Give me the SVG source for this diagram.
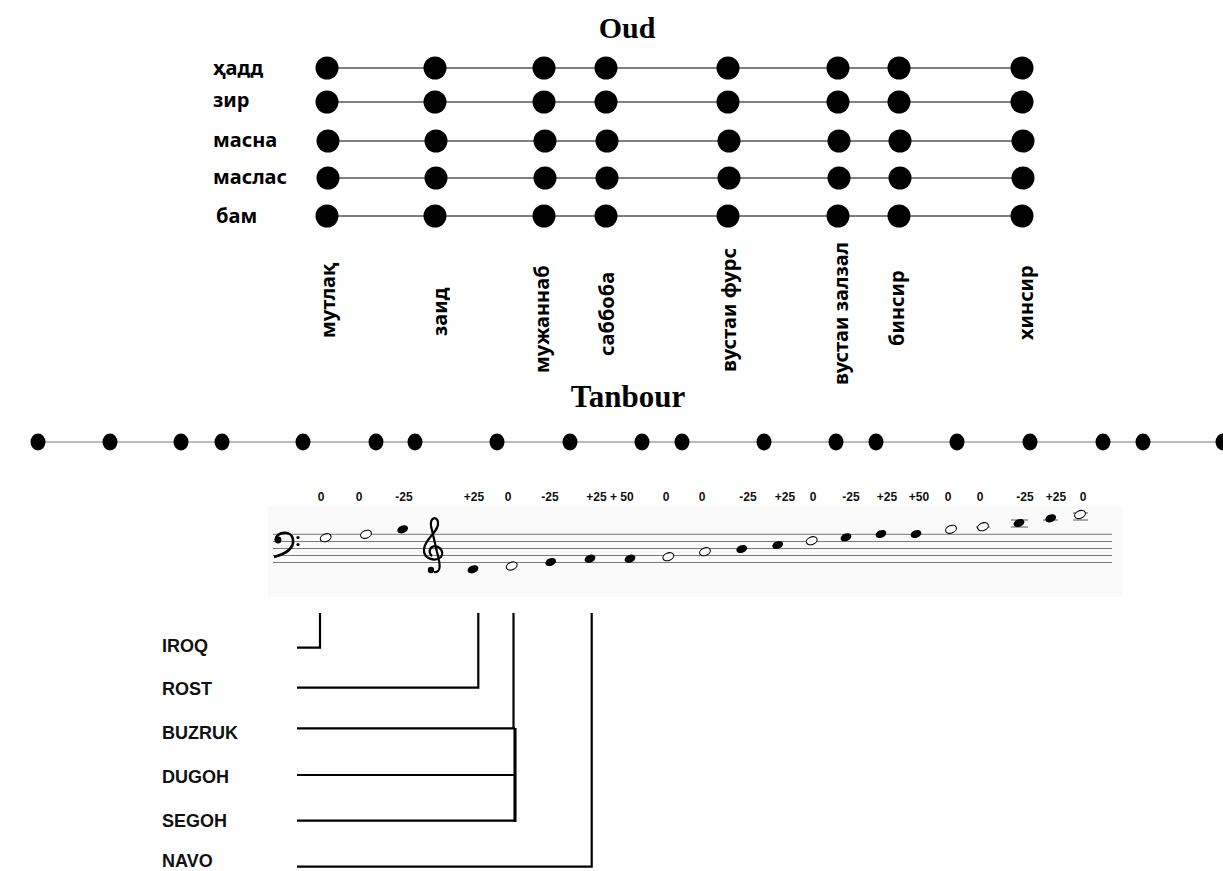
<svg xmlns="http://www.w3.org/2000/svg" width="1223" height="871" viewBox="0 0 1223 871">
<style>
.title{font-family:"Liberation Serif",serif;font-weight:bold;font-size:30px;fill:#000}
.slab{font-family:"Noto Sans",sans-serif;font-weight:bold;font-size:20px;fill:#000}
.vlab{font-family:"Noto Sans",sans-serif;font-weight:bold;font-size:20px;fill:#000}
.cents{font-family:"Liberation Sans",sans-serif;font-weight:bold;font-size:12px;fill:#111;text-anchor:middle}
.maq{font-family:"Liberation Sans",sans-serif;font-weight:bold;font-size:18px;fill:#111}
.str{stroke:#555;stroke-width:1.5}
.od{fill:#000}
.tl{stroke:#bbbbbb;stroke-width:2}
.staff{stroke:#7a7a7a;stroke-width:1}
.fn{fill:#000}
.on{fill:#fff;stroke:#000;stroke-width:1.1}
.led{stroke:#555;stroke-width:1}
.con{stroke:#000;stroke-width:2.2;fill:none}
</style>
<defs>
<circle id="d" r="11.5"/>
<ellipse id="t" rx="7.5" ry="8.5"/>
<ellipse id="nh" rx="5.6" ry="3.8" transform="rotate(-22)"/>
</defs>
<rect width="1223" height="871" fill="#fff"/>

<g id="oud-title"><text class="title" x="627" y="38" text-anchor="middle">Oud</text></g>

<g id="string-hadd">
<text class="slab" x="213" y="75">ҳадд</text>
<line class="str" x1="327" y1="68" x2="1022" y2="68"/>
<g class="od"><use href="#d" x="327" y="68"/><use href="#d" x="435" y="68"/><use href="#d" x="544" y="68"/><use href="#d" x="606" y="68"/><use href="#d" x="728" y="68"/><use href="#d" x="838" y="68"/><use href="#d" x="899" y="68"/><use href="#d" x="1022" y="68"/></g>
</g>
<g id="string-zir">
<text class="slab" x="213" y="107">зир</text>
<line class="str" x1="327" y1="102" x2="1022" y2="102"/>
<g class="od"><use href="#d" x="327" y="102"/><use href="#d" x="435" y="102"/><use href="#d" x="544" y="102"/><use href="#d" x="606" y="102"/><use href="#d" x="728" y="102"/><use href="#d" x="838" y="102"/><use href="#d" x="899" y="102"/><use href="#d" x="1022" y="102"/></g>
</g>
<g id="string-masna">
<text class="slab" x="213" y="147">масна</text>
<line class="str" x1="328" y1="141" x2="1023" y2="141"/>
<g class="od"><use href="#d" x="328" y="141"/><use href="#d" x="436" y="141"/><use href="#d" x="545" y="141"/><use href="#d" x="607" y="141"/><use href="#d" x="729" y="141"/><use href="#d" x="839" y="141"/><use href="#d" x="900" y="141"/><use href="#d" x="1023" y="141"/></g>
</g>
<g id="string-maslas">
<text class="slab" x="213" y="184">маслас</text>
<line class="str" x1="328" y1="178" x2="1023" y2="178"/>
<g class="od"><use href="#d" x="328" y="178"/><use href="#d" x="436" y="178"/><use href="#d" x="545" y="178"/><use href="#d" x="607" y="178"/><use href="#d" x="729" y="178"/><use href="#d" x="839" y="178"/><use href="#d" x="900" y="178"/><use href="#d" x="1023" y="178"/></g>
</g>
<g id="string-bam">
<text class="slab" x="216" y="223">бам</text>
<line class="str" x1="327" y1="216" x2="1022" y2="216"/>
<g class="od"><use href="#d" x="327" y="216"/><use href="#d" x="435" y="216"/><use href="#d" x="544" y="216"/><use href="#d" x="606" y="216"/><use href="#d" x="728" y="216"/><use href="#d" x="838" y="216"/><use href="#d" x="899" y="216"/><use href="#d" x="1022" y="216"/></g>
</g>

<g id="fret-labels">
<text class="vlab" transform="translate(335,338) rotate(-90)">мутлақ</text>
<text class="vlab" transform="translate(447,336) rotate(-90)">заид</text>
<text class="vlab" transform="translate(549,373) rotate(-90)">мужаннаб</text>
<text class="vlab" transform="translate(614,356) rotate(-90)">саббоба</text>
<text class="vlab" transform="translate(736,372) rotate(-90)">вустаи фурс</text>
<text class="vlab" transform="translate(848,385) rotate(-90)">вустаи залзал</text>
<text class="vlab" transform="translate(904,346) rotate(-90)">бинсир</text>
<text class="vlab" transform="translate(1033,340) rotate(-90)">хинсир</text>
</g>

<g id="tanbour-title"><text class="title" x="628" y="407" text-anchor="middle" style="font-size:31px">Tanbour</text></g>

<g id="tanbour-line">
<line class="tl" x1="38" y1="442" x2="1223" y2="442"/>
<g class="od">
<use href="#t" x="38" y="442"/><use href="#t" x="110" y="442"/><use href="#t" x="181" y="442"/><use href="#t" x="222" y="442"/><use href="#t" x="303" y="442"/><use href="#t" x="376" y="442"/><use href="#t" x="415" y="442"/><use href="#t" x="497" y="442"/><use href="#t" x="570" y="442"/><use href="#t" x="642" y="442"/><use href="#t" x="682" y="442"/><use href="#t" x="764" y="442"/><use href="#t" x="836" y="442"/><use href="#t" x="876" y="442"/><use href="#t" x="957" y="442"/><use href="#t" x="1030" y="442"/><use href="#t" x="1103" y="442"/><use href="#t" x="1143" y="442"/><use href="#t" x="1223" y="442"/>
</g>
</g>

<g id="cents">
<text class="cents" x="321" y="501">0</text>
<text class="cents" x="359" y="501">0</text>
<text class="cents" x="404" y="501">-25</text>
<text class="cents" x="474" y="501">+25</text>
<text class="cents" x="508" y="501">0</text>
<text class="cents" x="550" y="501">-25</text>
<text class="cents" x="610" y="501">+25 + 50</text>
<text class="cents" x="666" y="501">0</text>
<text class="cents" x="702" y="501">0</text>
<text class="cents" x="748" y="501">-25</text>
<text class="cents" x="785" y="501">+25</text>
<text class="cents" x="813" y="501">0</text>
<text class="cents" x="851" y="501">-25</text>
<text class="cents" x="887" y="501">+25</text>
<text class="cents" x="919" y="501">+50</text>
<text class="cents" x="948" y="501">0</text>
<text class="cents" x="980" y="501">0</text>
<text class="cents" x="1025" y="501">-25</text>
<text class="cents" x="1056" y="501">+25</text>
<text class="cents" x="1083" y="501">0</text>
</g>

<g id="staff">
<rect x="268" y="506" width="854" height="91" fill="#fafafa"/>
<g class="staff">
<line x1="273" y1="534.3" x2="1112" y2="534.3"/>
<line x1="273" y1="541.5" x2="1112" y2="541.5"/>
<line x1="273" y1="548.5" x2="1112" y2="548.5"/>
<line x1="273" y1="555.5" x2="1112" y2="555.5"/>
<line x1="273" y1="562.5" x2="1112" y2="562.5"/>
</g>
<g id="bass-clef">
<circle cx="278" cy="540" r="3.4" fill="#000"/>
<path d="M276,540 C275,532 292,529 293,540 C294,549 285,554 274,557" fill="none" stroke="#000" stroke-width="2.6"/>
<circle cx="298" cy="537.5" r="1.6" fill="#000"/>
<circle cx="298" cy="544.5" r="1.6" fill="#000"/>
</g>
<g id="treble-clef">
<path d="M434,572 C442,573 440,563 437,552 L431,526 C430,517 437,516 438,522 C440,531 425,538 424,549 C423,559 435,562 441,557 C445,551 438,544 432,547 C428,550 430,555 432,556" fill="none" stroke="#000" stroke-width="2.2"/>
<circle cx="431" cy="570" r="3.2" fill="#000"/>
</g>
<g id="ledgers" class="led">
<line x1="976" y1="527" x2="990" y2="527"/>
<line x1="1011" y1="520" x2="1028" y2="520"/>
<line x1="1011" y1="527" x2="1028" y2="527"/>
<line x1="1043" y1="520" x2="1058" y2="520"/>
<line x1="1073" y1="513" x2="1088" y2="513"/>
<line x1="1073" y1="520" x2="1088" y2="520"/>
</g>
<g id="notes">
<use href="#nh" class="on" transform="translate(325.7,537.7)"/>
<use href="#nh" class="on" transform="translate(366,534.3)"/>
<use href="#nh" class="fn" transform="translate(402.7,529.3)"/>
<use href="#nh" class="fn" transform="translate(473,569.3)"/>
<use href="#nh" class="on" transform="translate(511.7,566)"/>
<use href="#nh" class="fn" transform="translate(550.7,562)"/>
<use href="#nh" class="fn" transform="translate(590,558.7)"/>
<use href="#nh" class="fn" transform="translate(630,558.7)"/>
<use href="#nh" class="on" transform="translate(668.3,556.7)"/>
<use href="#nh" class="on" transform="translate(705,551.7)"/>
<use href="#nh" class="fn" transform="translate(741.7,549)"/>
<use href="#nh" class="fn" transform="translate(777.7,545)"/>
<use href="#nh" class="on" transform="translate(811.7,540.7)"/>
<use href="#nh" class="fn" transform="translate(846,537.3)"/>
<use href="#nh" class="fn" transform="translate(881,534)"/>
<use href="#nh" class="fn" transform="translate(916,534)"/>
<use href="#nh" class="on" transform="translate(951,529.3)"/>
<use href="#nh" class="on" transform="translate(983,526.7)"/>
<use href="#nh" class="fn" transform="translate(1019,523)"/>
<use href="#nh" class="fn" transform="translate(1050.7,518.3)"/>
<use href="#nh" class="on" transform="translate(1080,514.5)"/>
</g>
</g>

<g id="maqom-IROQ"><text class="maq" x="162" y="652">IROQ</text></g>
<g id="maqom-ROST"><text class="maq" x="162" y="695">ROST</text></g>
<g id="maqom-BUZRUK"><text class="maq" x="162" y="739">BUZRUK</text></g>
<g id="maqom-DUGOH"><text class="maq" x="162" y="783">DUGOH</text></g>
<g id="maqom-SEGOH"><text class="maq" x="162" y="827">SEGOH</text></g>
<g id="maqom-NAVO"><text class="maq" x="162" y="867">NAVO</text></g>

<g id="connectors" class="con">
<polyline points="297,647.7 320,647.7 320,613"/>
<polyline points="297,687.7 478.3,687.7 478.3,613"/>
<line x1="513.5" y1="613" x2="513.5" y2="729"/>
<line x1="297" y1="728.3" x2="515" y2="728.3"/>
<line x1="297" y1="775" x2="515" y2="775"/>
<polyline points="297,820.7 515,820.7 515,728"/>
<line x1="515" y1="728" x2="515" y2="822" stroke-width="3"/>
<polyline points="297,866.7 591.7,866.7 591.7,613"/>
</g>
</svg>
